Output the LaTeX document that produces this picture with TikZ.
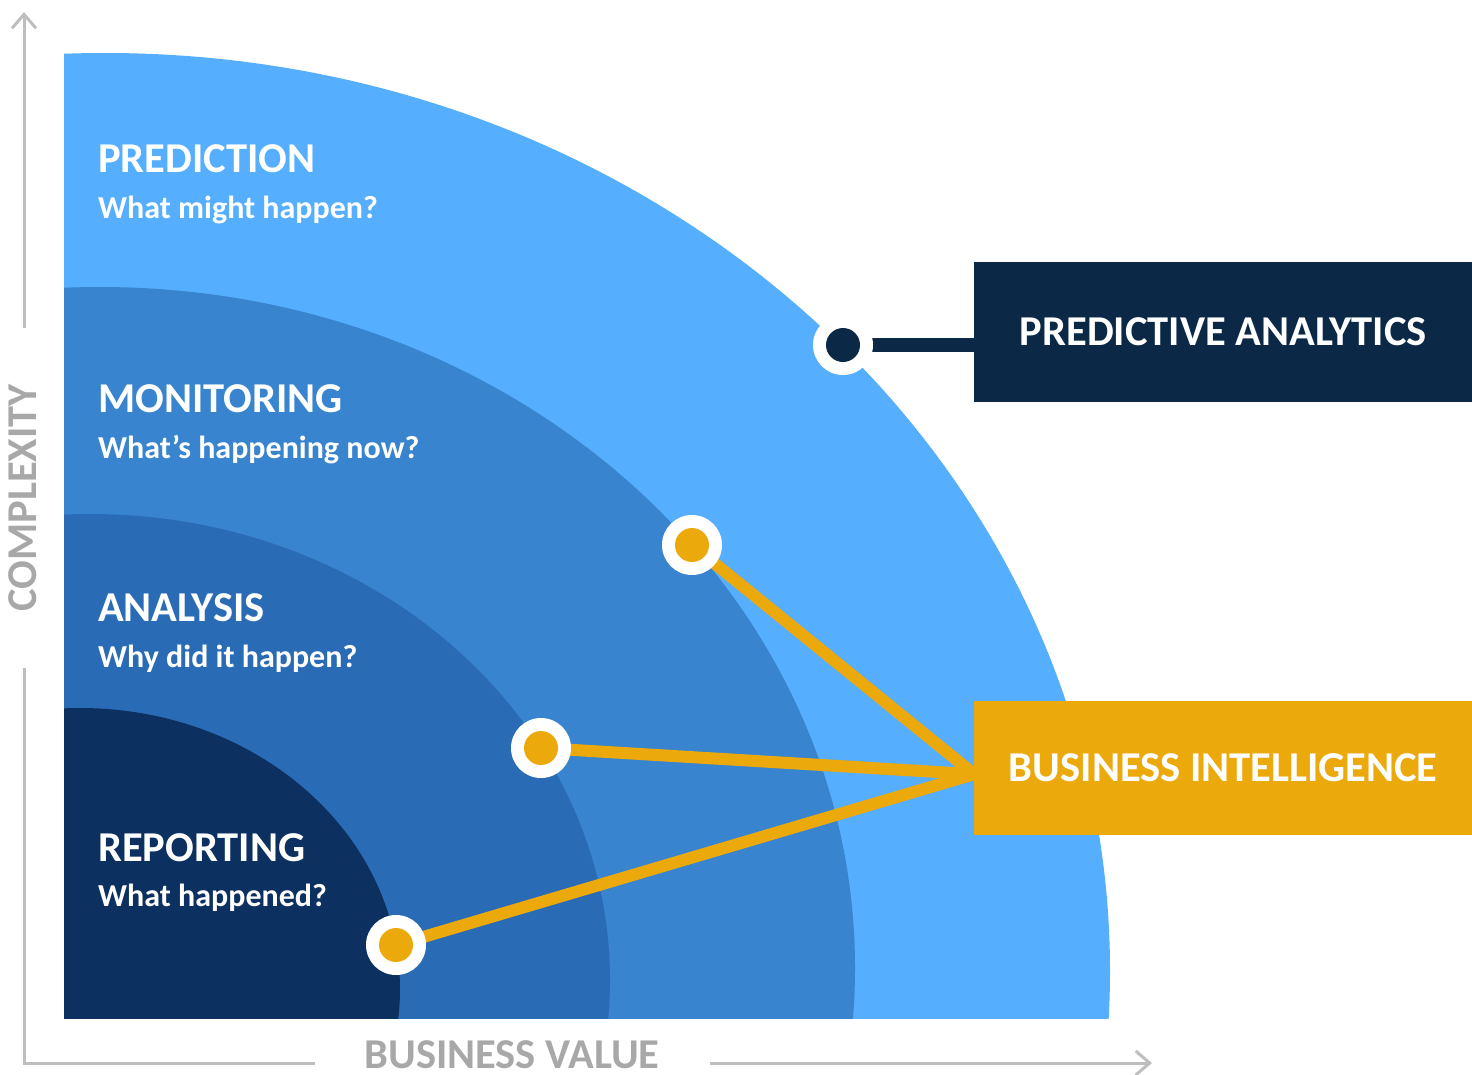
\documentclass[tikz,border=0pt]{standalone}
\usepackage{fontspec}
\setmainfont{Carlito}
\usetikzlibrary{arrows.meta}
\definecolor{bandA}{RGB}{85,174,254}
\definecolor{bandB}{RGB}{56,132,206}
\definecolor{bandC}{RGB}{42,107,181}
\definecolor{bandD}{RGB}{12,49,96}
\definecolor{navy}{RGB}{11,41,71}
\definecolor{gold}{RGB}{236,169,12}
\definecolor{axisgray}{RGB}{190,190,190}
\definecolor{labelgray}{RGB}{168,168,168}
\tikzset{
  head/.style={text=white, anchor=base west, inner sep=0pt, font=\fontsize{42.5}{44}\selectfont\bfseries},
  sub/.style={text=white, anchor=base west, inner sep=0pt, font=\fontsize{32}{34}\selectfont\bfseries},
  ring/.style={circle, fill=white, minimum size=60pt, inner sep=0pt},
  dotgold/.style={circle, fill=gold, minimum size=34pt, inner sep=0pt},
  dotnavy/.style={circle, fill=navy, minimum size=34pt, inner sep=0pt},
  tagbox/.style={rectangle, inner sep=0pt, text=white, font=\fontsize{42.5}{44}\selectfont\bfseries},
  axisline/.style={draw=axisgray, line width=3pt},
  axislabel/.style={text=labelgray, inner sep=0pt, font=\fontsize{42.5}{44}\selectfont\bfseries},
  goldlink/.style={draw=gold, line width=12pt},
}
\begin{document}
\begin{tikzpicture}[x=1pt,y=-1pt]
\useasboundingbox (0,0) rectangle (1472,1074);

% nested quarter-ellipse bands
\begin{scope}
  \clip (64,0) rectangle (1472,1018);
  \fill[bandA] (105,971) ellipse [x radius=1005pt, y radius=918pt];
  \fill[bandB] (100,968) ellipse [x radius=755pt, y radius=681pt];
  \fill[bandC] (90,980) ellipse [x radius=520pt, y radius=466pt];
  \fill[bandD] (80,989) ellipse [x radius=320pt, y radius=281pt];
\end{scope}

% band labels
\node[head] (tPred) at (98,172) {PREDICTION};
\node[sub]  (sPred) at (98,218) {What might happen?};
\node[head] (tMon)  at (98,412) {MONITORING};
\node[sub]  (sMon)  at (98,458) {What’s happening now?};
\node[head] (tAna)  at (98,621) {ANALYSIS};
\node[sub]  (sAna)  at (98,667) {Why did it happen?};
\node[head] (tRep)  at (98,861) {REPORTING};
\node[sub]  (sRep)  at (98,906) {What happened?};

% tag boxes
\node[tagbox, fill=navy, minimum width=498pt, minimum height=140pt, anchor=north west] (pa) at (974,262) {PREDICTIVE ANALYTICS};
\node[tagbox, fill=gold, minimum width=498pt, minimum height=134pt, anchor=north west] (bi) at (974,701) {BUSINESS INTELLIGENCE};

% markers on the band edges
\coordinate (mPred) at (843,345);
\coordinate (mMon)  at (692,545);
\coordinate (mAna)  at (541,748);
\coordinate (mRep)  at (396,945);
\coordinate (biIn)  at ([yshift=-6pt]bi.west);

% connectors
\draw[navy, line width=14pt] (mPred) -- (pa.west |- mPred);
\draw[goldlink] (mMon) -- (biIn);
\draw[goldlink] (mAna) -- (biIn);
\draw[goldlink] (mRep) -- (biIn);

\node[ring] (rPred) at (mPred) {};
\node[dotnavy] (dPred) at (mPred) {};
\node[ring] (rMon) at (mMon) {};
\node[dotgold] (dMon) at (mMon) {};
\node[ring] (rAna) at (mAna) {};
\node[dotgold] (dAna) at (mAna) {};
\node[ring] (rRep) at (mRep) {};
\node[dotgold] (dRep) at (mRep) {};

% axes
\coordinate (yTop) at (24,12);
\coordinate (yGapTop) at (24,328);
\coordinate (yGapBot) at (24,668);
\coordinate (origin) at (24,1063);
\coordinate (xGapL) at (315,1063);
\coordinate (xGapR) at (710,1063);
\coordinate (xEnd) at (1152,1063);
\draw[axisline, -{Straight Barb[length=14pt,width=24pt]}] (yGapTop) -- (yTop);
\draw[axisline] (yGapBot) -- (origin) -- (xGapL);
\draw[axisline, -{Straight Barb[length=14pt,width=24pt]}] (xGapR) -- (xEnd);
\node[axislabel, rotate=90, anchor=base] (cLab) at (36,498) {COMPLEXITY};
\node[axislabel, anchor=base] (vLab) at (512,1068) {BUSINESS VALUE};
\end{tikzpicture}
\end{document}
